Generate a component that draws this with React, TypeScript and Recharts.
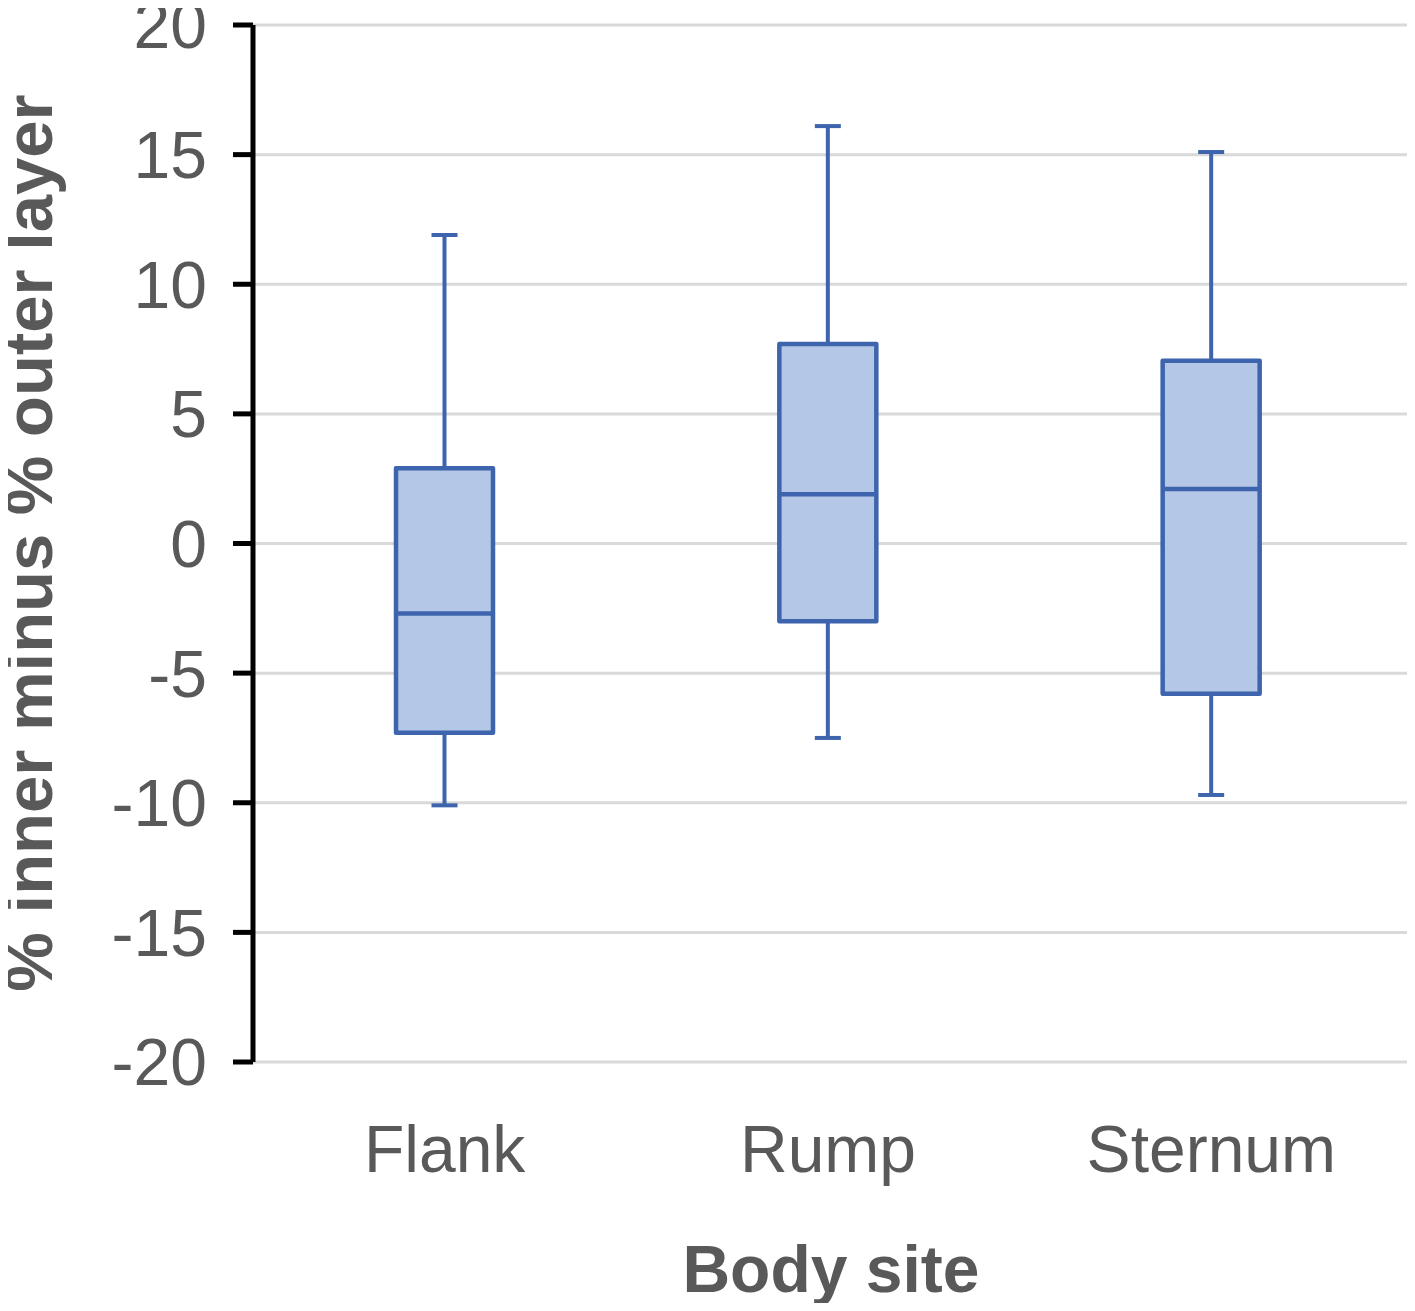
import React from 'react';
import { ComposedChart, Bar, XAxis, YAxis, CartesianGrid } from 'recharts';

const categories = ['Flank', 'Rump', 'Sternum'];
const minValues = [-10.1, -7.5, -9.7];
const q1Values = [-7.3, -3.0, -5.8];
const medianValues = [-2.7, 1.9, 2.1];
const q3Values = [2.9, 7.7, 7.05];
const maxValues = [11.9, 16.1, 15.1];
const yTicks = [-20, -15, -10, -5, 0, 5, 10, 15, 20];

const data = categories.map((name, i) => ({
  name,
  min: minValues[i],
  q1: q1Values[i],
  median: medianValues[i],
  q3: q3Values[i],
  max: maxValues[i],
  range: [minValues[i], maxValues[i]],
}));

const STROKE = '#3d64ad';
const FILL = '#b4c7e7';
const TEXT = '#595959';
const FONT = 'Arial, "Liberation Sans", Helvetica, sans-serif';

const BoxShape = (props: any) => {
  const { x, y, width, height, payload } = props;
  if (payload == null || height == null) return null;
  const { min, q1, median, q3, max } = payload;
  const span = max - min;
  const toY = (v: number) => y + (height * (max - v)) / span;
  const cx = x + width / 2;
  const capHalf = 13;
  const yMax = toY(max);
  const yQ3 = toY(q3);
  const yMed = toY(median);
  const yQ1 = toY(q1);
  const yMin = toY(min);
  return (
    <g>
      <line x1={cx} x2={cx} y1={yMax} y2={yQ3} stroke={STROKE} strokeWidth={4} />
      <line x1={cx} x2={cx} y1={yQ1} y2={yMin} stroke={STROKE} strokeWidth={4} />
      <line x1={cx - capHalf} x2={cx + capHalf} y1={yMax} y2={yMax} stroke={STROKE} strokeWidth={4} />
      <line x1={cx - capHalf} x2={cx + capHalf} y1={yMin} y2={yMin} stroke={STROKE} strokeWidth={4} />
      <rect x={x} y={yQ3} width={width} height={yQ1 - yQ3} fill={FILL} stroke={STROKE} strokeWidth={4.5} strokeLinejoin="round" />
      <line x1={x} x2={x + width} y1={yMed} y2={yMed} stroke={STROKE} strokeWidth={4.5} />
    </g>
  );
};

const YTitle = () => (
  <text
    x={52}
    y={543}
    transform="rotate(-90, 52, 543)"
    textAnchor="middle"
    fill={TEXT}
    fontFamily={FONT}
    fontWeight="bold"
    fontSize={67}
  >
    % inner minus % outer layer
  </text>
);

const XTitle = () => (
  <text
    x={831}
    y={1292}
    textAnchor="middle"
    fill={TEXT}
    fontFamily={FONT}
    fontWeight="bold"
    fontSize={66}
  >
    Body site
  </text>
);

export default function App() {
  return (
    <div style={{ margin: '-8px', width: 1415, height: 1311, overflow: 'hidden' }}>
      <ComposedChart
        width={1415}
        height={1311}
        data={data}
        margin={{ top: 25, right: 6, bottom: 0, left: 0 }}
      >
        <CartesianGrid vertical={false} stroke="#d9d9d9" strokeWidth={3} />
        <XAxis
          dataKey="name"
          axisLine={false}
          tickLine={false}
          tickSize={0}
          tickMargin={63}
          height={249}
          padding={{ left: 0, right: 6 }}
          tick={{ fill: TEXT, fontSize: 66, fontFamily: FONT }}
          label={{ content: () => <XTitle /> }}
        />
        <YAxis
          type="number"
          domain={[-20, 20]}
          ticks={yTicks}
          interval={0}
          width={253}
          axisLine={{ stroke: '#000', strokeWidth: 5 }}
          tickLine={{ stroke: '#000', strokeWidth: 5 }}
          tickSize={20}
          tickMargin={26}
          tick={{ fill: TEXT, fontSize: 66, fontFamily: FONT }}
          label={{ content: () => <YTitle /> }}
        />
        <Bar dataKey="range" barSize={97} shape={<BoxShape />} isAnimationActive={false} />
      </ComposedChart>
    </div>
  );
}
